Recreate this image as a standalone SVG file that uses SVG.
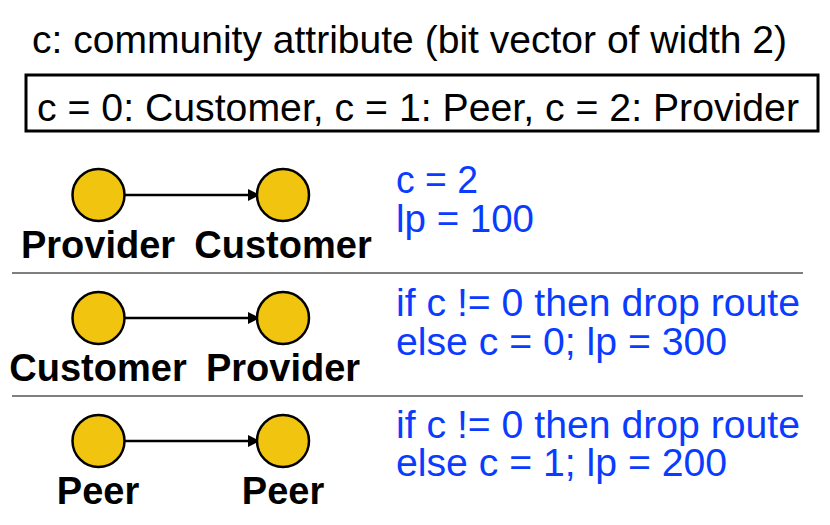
<svg xmlns="http://www.w3.org/2000/svg" width="830" height="525" viewBox="0 0 830 525">
<defs>
<style>
.t{font-family:"Liberation Sans",Arial,sans-serif;fill:#000;font-size:39px}
.b{font-family:"Liberation Sans",Arial,sans-serif;fill:#0A3CFF;font-size:38px}
.l{font-family:"Liberation Sans",Arial,sans-serif;fill:#000;font-size:38px;font-weight:bold;text-anchor:middle}
.n{fill:#F1C40F;stroke:#000;stroke-width:2.5}
.e{stroke:#000;stroke-width:2.5;fill:none;marker-end:url(#ah)}
.s{stroke:#555;stroke-width:1.5}
</style>
<marker id="ah" markerWidth="12" markerHeight="12" refX="11" refY="6" orient="auto" markerUnits="userSpaceOnUse">
<path d="M0,0 L12,6 L0,12 Z" fill="#000"/>
</marker>
</defs>
<rect width="830" height="525" fill="#fff"/>
<g id="header">
<text class="t" x="32" y="53" textLength="755" lengthAdjust="spacingAndGlyphs">c: community attribute (bit vector of width 2)</text>
<rect x="26" y="75" width="792" height="56" fill="none" stroke="#000" stroke-width="3"/>
<text class="t" x="37" y="121" textLength="762" lengthAdjust="spacingAndGlyphs">c = 0: Customer, c = 1: Peer, c = 2: Provider</text>
</g>
<g id="separators">
<line class="s" x1="12" y1="273" x2="803" y2="273"/>
<line class="s" x1="12" y1="396" x2="803" y2="396"/>
</g>
<g id="connectors">
<line class="e" x1="125" y1="195" x2="259" y2="195"/>
<line class="e" x1="125" y1="318" x2="259" y2="318"/>
<line class="e" x1="125" y1="441" x2="259" y2="441"/>
</g>
<g id="row1-provider"><circle class="n" cx="98.5" cy="195" r="26"/><text class="l" x="98" y="258">Provider</text></g>
<g id="row1-customer"><circle class="n" cx="283" cy="195" r="26"/><text class="l" x="283" y="258">Customer</text></g>
<g id="row1-rule"><text class="b" x="396" y="193" textLength="82" lengthAdjust="spacingAndGlyphs">c = 2</text><text class="b" x="396" y="232" textLength="138" lengthAdjust="spacingAndGlyphs">lp = 100</text></g>
<g id="row2-customer"><circle class="n" cx="98.5" cy="318" r="26"/><text class="l" x="98" y="381">Customer</text></g>
<g id="row2-provider"><circle class="n" cx="283" cy="318" r="26"/><text class="l" x="283" y="381">Provider</text></g>
<g id="row2-rule"><text class="b" x="396" y="316" textLength="404" lengthAdjust="spacingAndGlyphs">if c != 0 then drop route</text><text class="b" x="396" y="355" textLength="331" lengthAdjust="spacingAndGlyphs">else c = 0; lp = 300</text></g>
<g id="row3-peer-a"><circle class="n" cx="98.5" cy="441" r="26"/><text class="l" x="98" y="504">Peer</text></g>
<g id="row3-peer-b"><circle class="n" cx="283" cy="441" r="26"/><text class="l" x="283" y="504">Peer</text></g>
<g id="row3-rule"><text class="b" x="396" y="438" textLength="404" lengthAdjust="spacingAndGlyphs">if c != 0 then drop route</text><text class="b" x="396" y="476" textLength="331" lengthAdjust="spacingAndGlyphs">else c = 1; lp = 200</text></g>
</svg>
